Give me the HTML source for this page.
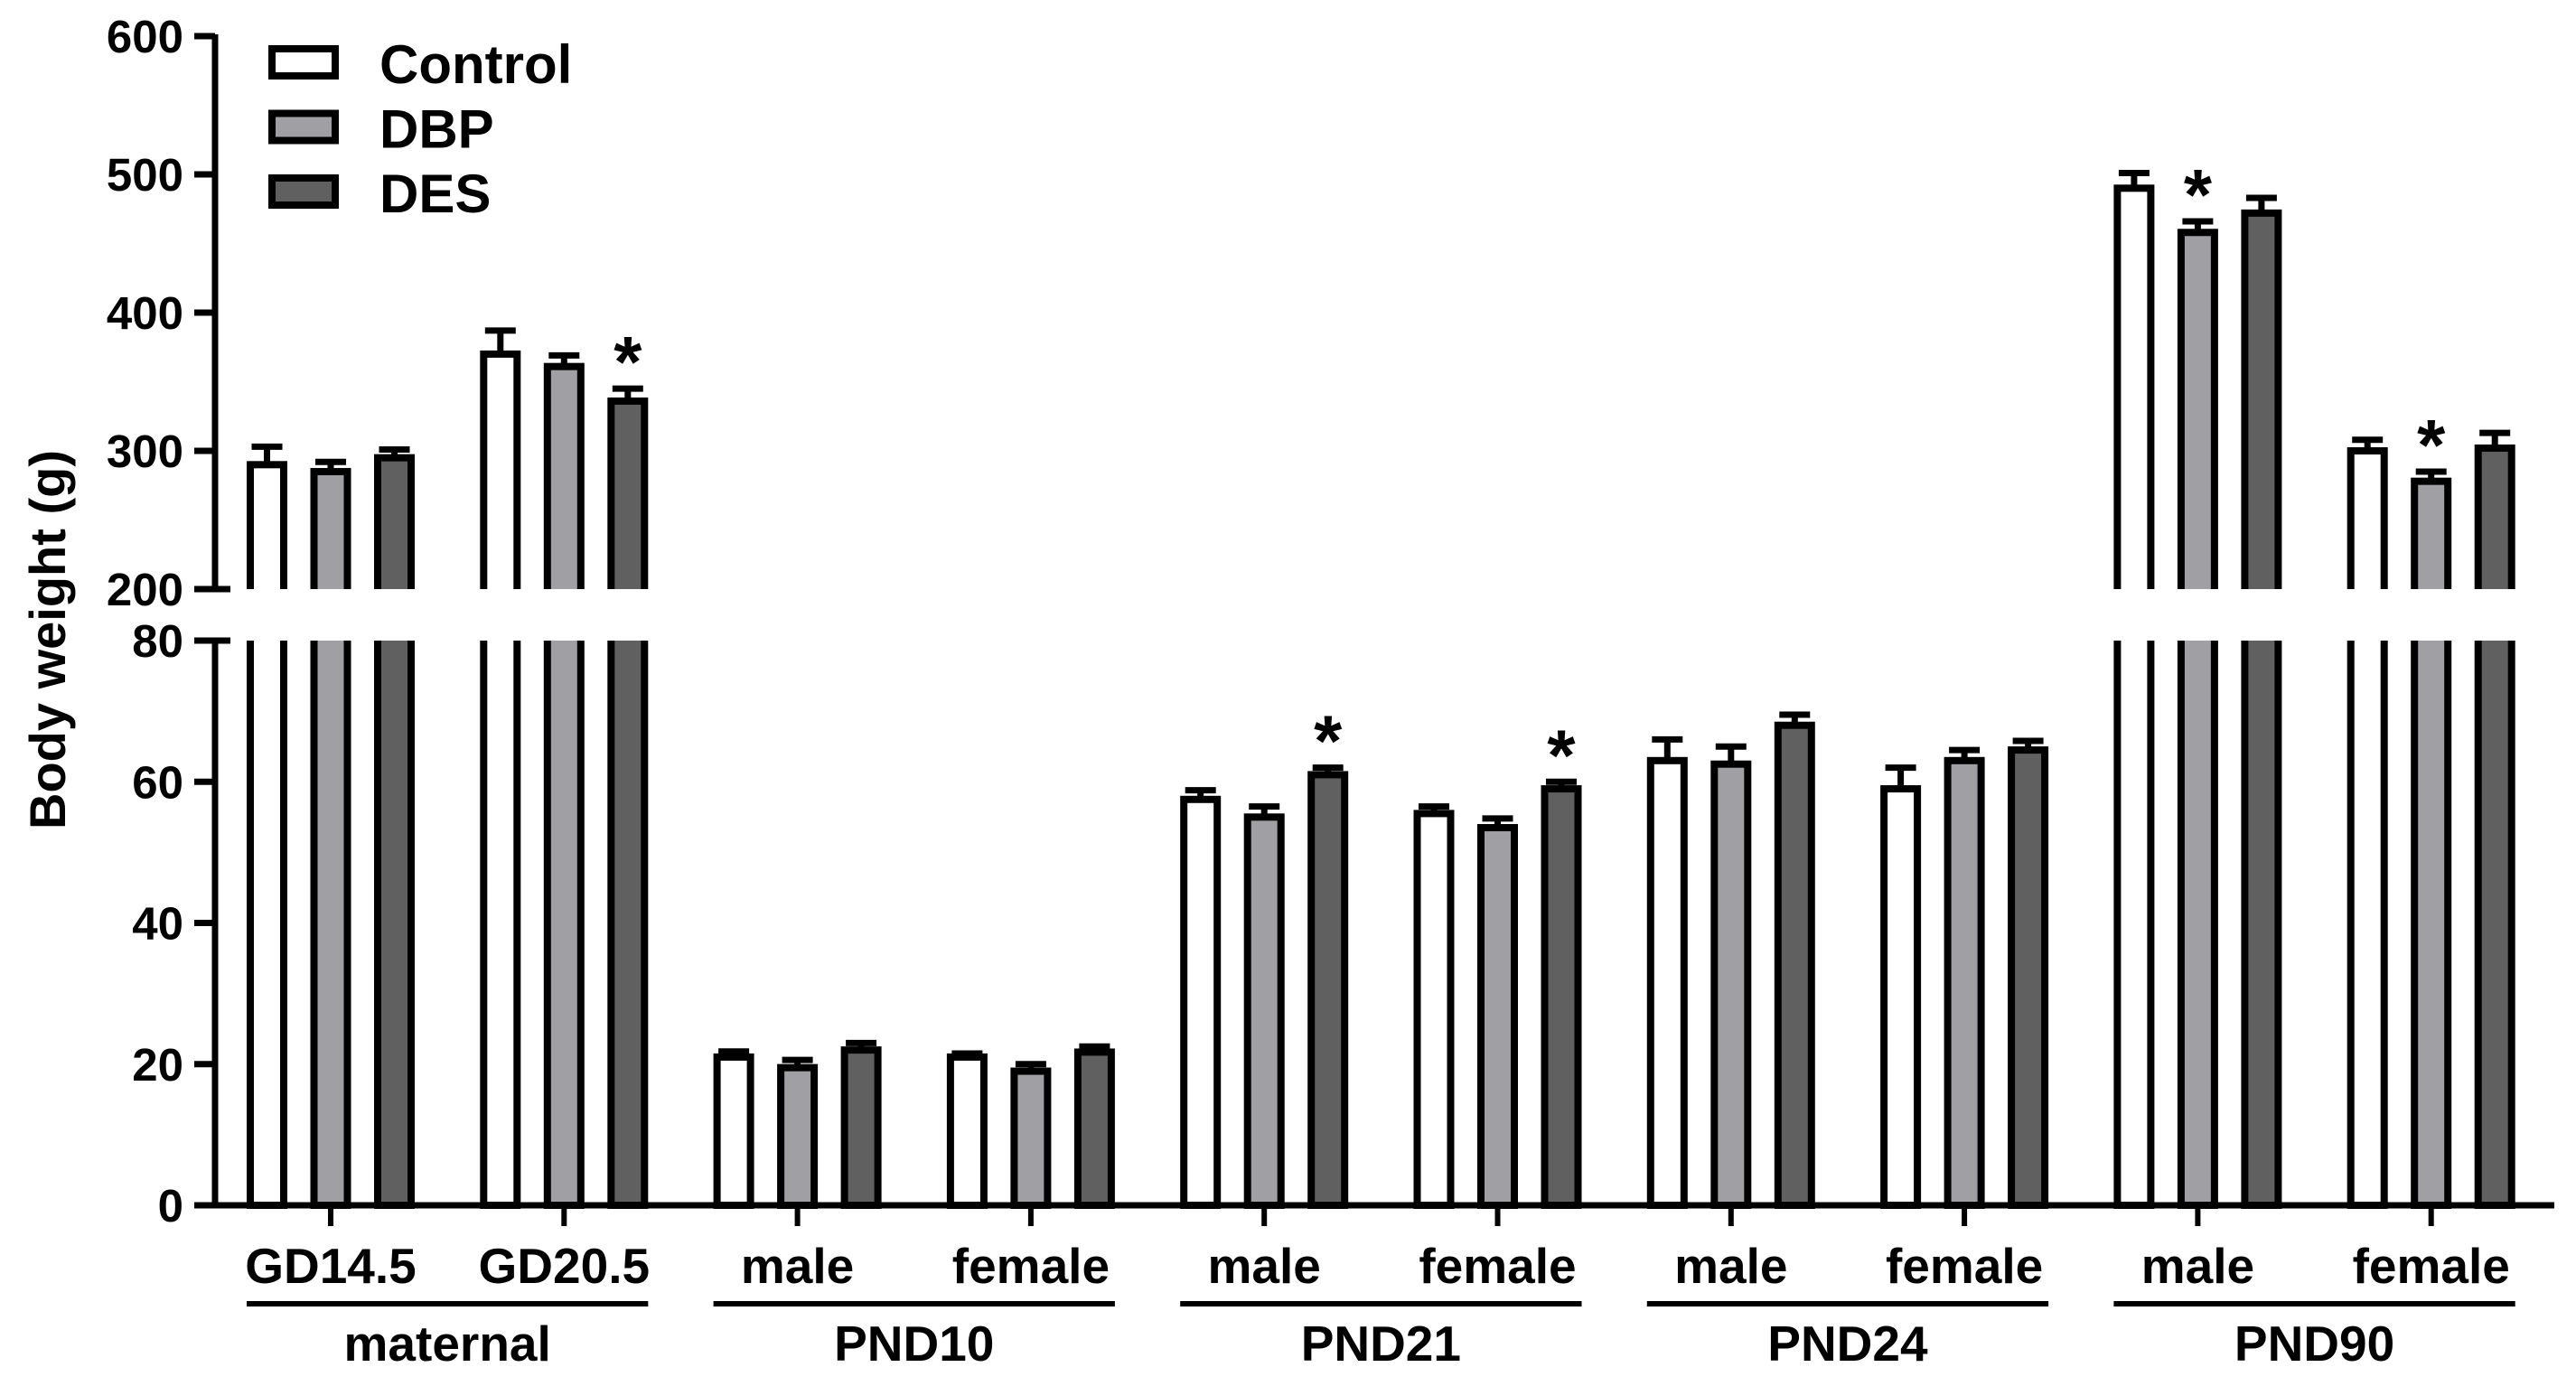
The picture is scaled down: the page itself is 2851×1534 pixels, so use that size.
<!DOCTYPE html>
<html><head><meta charset="utf-8">
<style>
html,body{margin:0;padding:0;background:#fff;}
svg{display:block;}
text{font-family:"Liberation Sans",Arial,sans-serif;font-weight:bold;fill:#000;}
</style></head>
<body>
<svg id="chart" width="2851" height="1534" viewBox="0 0 2851 1534" xmlns="http://www.w3.org/2000/svg">
<g id="axes"></g>
<g id="bars"></g>
<g id="labels"></g>
<g id="legend"></g>
<text transform="translate(72,708) rotate(-90)" text-anchor="middle" font-size="56">Body weight (g)</text>
</svg>
<script>
const categories = ["GD14.5","GD20.5","male","female","male","female","male","female","male","female"];
const groups = ["maternal","PND10","PND21","PND24","PND90"];
const seriesNames = ["Control","DBP","DES"];
const control = [290,370,21,21,57.5,55.5,63,59,490,300];
const dbp = [285,361,19.5,19,55,53.5,62.5,63,458,278];
const des = [295,336,22,21.7,61,59,68,64.5,472,302];
const controlErr = [13,17,0.8,0.5,1.3,1,3,3,11,8];
const dbpErr = [7,8,1.1,1,1.5,1.3,2.5,1.5,8,7];
const desErr = [6,9,1,0.8,1,1,1.5,1.3,11,11];
const upperPanel = [true,true,false,false,false,false,false,false,true,true];
const stars = [[1,2],[4,2],[5,2],[8,1],[9,1]];
const upperTicks = [200,300,400,500,600];
const lowerTicks = [0,20,40,60,80];

const NS="http://www.w3.org/2000/svg";
const colors=["#ffffff","#a0a0a4","#606060"];
const values=[control,dbp,des], errs=[controlErr,dbpErr,desErr];
const axX=238, x0=366, step=258.3, pitch=70.5, bw=37, sw=8;
const upBreak=652, loTop=709, base=1334;
function yUp(v){return upBreak-(v-200)*(upBreak-40)/400;}
function yLo(v){return base-v*(base-loTop)/80;}
function xCat(i){return x0+i*step;}
function mk(tag,attrs,parent){const e=document.createElementNS(NS,tag);for(const k in attrs)e.setAttribute(k,attrs[k]);parent.appendChild(e);return e;}
const axes=document.getElementById('axes'),bars=document.getElementById('bars'),labels=document.getElementById('labels'),legend=document.getElementById('legend');

for(let i=0;i<categories.length;i++){
  for(let s=0;s<3;s++){
    const cx=xCat(i)+(s-1)*pitch, v=values[s][i], e=errs[s][i];
    const top=upperPanel[i]?yUp(v):yLo(v), etop=upperPanel[i]?yUp(v+e):yLo(v+e);
    const g=mk('g',{},bars);
    
    
    mk('line',{x1:cx,x2:cx,y1:top,y2:etop,stroke:'#000','stroke-width':7},g);
    mk('line',{x1:cx-17,x2:cx+17,y1:etop,y2:etop,stroke:'#000','stroke-width':7},g);
    if(upperPanel[i]){
      mk('rect',{x:cx-bw/2,y:top,width:bw,height:upBreak-top+sw,fill:colors[s],stroke:'#000','stroke-width':sw},g);
      mk('rect',{x:cx-bw/2-sw,y:upBreak,width:bw+2*sw,height:loTop-upBreak,fill:'#fff'},g);
      mk('rect',{x:cx-bw/2,y:loTop-sw,width:bw,height:base-loTop+sw,fill:colors[s],stroke:'#000','stroke-width':sw},g);
      mk('rect',{x:cx-bw/2-sw,y:loTop-sw-6,width:bw+2*sw,height:sw+6,fill:'#fff'},g);
    } else {
      mk('rect',{x:cx-bw/2,y:top,width:bw,height:base-top,fill:colors[s],stroke:'#000','stroke-width':sw},g);
    }
  }
}
stars.forEach(([i,s])=>{
  const cx=xCat(i)+(s-1)*pitch, v=values[s][i]+errs[s][i];
  const ey=upperPanel[i]?yUp(v):yLo(v);
  const t=mk('text',{x:cx,y:ey-2,'text-anchor':'middle','font-size':80},labels);
  
  
  t.textContent='*';
});
mk('line',{x1:axX,x2:axX,y1:38,y2:upBreak,stroke:'#000','stroke-width':7},axes);
mk('line',{x1:axX,x2:axX,y1:loTop,y2:base,stroke:'#000','stroke-width':7},axes);
mk('line',{x1:215,x2:2827,y1:base,y2:base,stroke:'#000','stroke-width':7},axes);
upperTicks.forEach(v=>{
  const y=yUp(v);
  mk('line',{x1:215,x2:v===200?255:axX,y1:y,y2:y,stroke:'#000','stroke-width':7},axes);
  const t=mk('text',{x:203,y:y+18,'text-anchor':'end','font-size':51},axes);
  
  
  t.textContent=v;
});
lowerTicks.forEach(v=>{
  const y=yLo(v);
  mk('line',{x1:215,x2:v===80?255:axX,y1:y,y2:y,stroke:'#000','stroke-width':7},axes);
  const t=mk('text',{x:203,y:y+18,'text-anchor':'end','font-size':51},axes);
  
  
  t.textContent=v;
});
categories.forEach((c,i)=>{
  const x=xCat(i);
  mk('line',{x1:x,x2:x,y1:base,y2:1357,stroke:'#000','stroke-width':6},axes);
  const t=mk('text',{x:x,y:1420,'text-anchor':'middle','font-size':55},labels);
  
  
  t.textContent=c;
});
groups.forEach((g,k)=>{
  const xa=xCat(2*k)-pitch-bw/2-sw/2, xb=xCat(2*k+1)+pitch+bw/2+sw/2;
  mk('line',{x1:xa,x2:xb,y1:1443,y2:1443,stroke:'#000','stroke-width':6},labels);
  const t=mk('text',{x:(xa+xb)/2,y:1506,'text-anchor':'middle','font-size':55},labels);
  
  
  t.textContent=g;
});
seriesNames.forEach((n,s)=>{
  const y=54+s*71.5;
  const r=mk('rect',{x:301,y:y,width:70,height:30,fill:colors[s],stroke:'#000','stroke-width':8},legend);
  
  
  const t=mk('text',{x:420,y:y+38,'font-size':60},legend);
  
  
  t.textContent=n;
});
</script>
</body></html>
